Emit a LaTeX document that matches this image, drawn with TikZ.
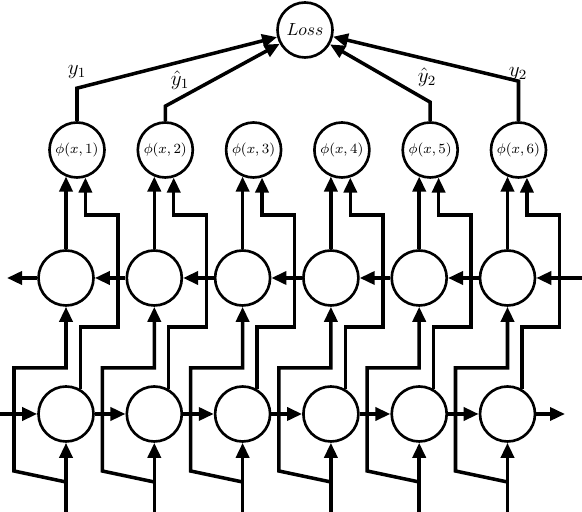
\documentclass[tikz,border=0pt]{standalone}
\usepackage{amsmath,amssymb}
\usepackage{tikz}
\usetikzlibrary{arrows.meta}
\tikzset{%
    unit/.style={%
        circle, draw, line width=1.5pt, minimum size=1.1cm, inner sep=0pt
    },
    arr/.style={%
        line width=2pt, -{Triangle[length=0.3cm,width=0.26cm]}
    }
}

\begin{document}
\begin{tikzpicture}[x=0.2cm,y=0.2cm]
    \useasboundingbox (0,0) rectangle (58.2,51.2);
    \node[unit] (loss) at (30.5,48.2) {$Loss$};
    \foreach \i in {1,...,6} {
        \pgfmathsetmacro{\cx}{6.6+8.83*(\i-1)}
        \node[unit] (fw\i) at (\cx,9.8) {};
        \node[unit] (bw\i) at (\cx,23.4) {};
        \node[unit,font=\footnotesize] (phi\i) at (\cx+1.1,36.2) {$\phi(x,\i)$};
        \coordinate (in\i) at (\cx,0);
        \draw[arr] (in\i) -- (fw\i);
        \draw[arr] (\cx,3.0) -- (\cx-5.2,4.1) -- (\cx-5.2,14.4) -- (\cx,14.4) -- (bw\i);
        \draw[arr] (fw\i.60) |- (\cx+5.2,18.5) -- (\cx+5.2,29.7) -| (phi\i.-73);
        \draw[arr] (bw\i.north) -- (bw\i.north |- phi\i.-113);
    }
    \coordinate (fin) at (0,9.8);
    \coordinate (fout) at (56.5,9.8);
    \coordinate (bin) at (58.2,23.4);
    \coordinate (bout) at (0.7,23.4);
    \draw[arr] (fin) -- (fw1);
    \foreach \i [evaluate=\i as \j using int(\i+1)] in {1,...,5} {
        \draw[arr] (fw\i) -- (fw\j);
        \draw[arr] (bw\j) -- (bw\i);
    }
    \draw[arr] (fw6) -- (fout);
    \draw[arr] (bin) -- (bw6);
    \draw[arr] (bw1) -- (bout);
    % outputs into the loss
    \draw[arr] (phi1.north) -- ++(0,3.3) -- (loss);
    \draw[arr] (phi2.north) -- ++(0,1.5) -- (loss);
    \draw[arr] (phi5.north) -- ++(0,1.9) -- (loss);
    \draw[arr] (phi6.north) -- ++(0,4.0) -- (loss);
    \node[font=\large] (y1) at (7.7,44.0) {$y_1$};
    \node[font=\large] (yh1) at (18.0,43.2) {$\hat{y}_1$};
    \node[font=\large] (yh2) at (42.7,43.5) {$\hat{y}_2$};
    \node[font=\large] (y2) at (51.8,43.8) {$y_2$};
\end{tikzpicture}
\end{document}
